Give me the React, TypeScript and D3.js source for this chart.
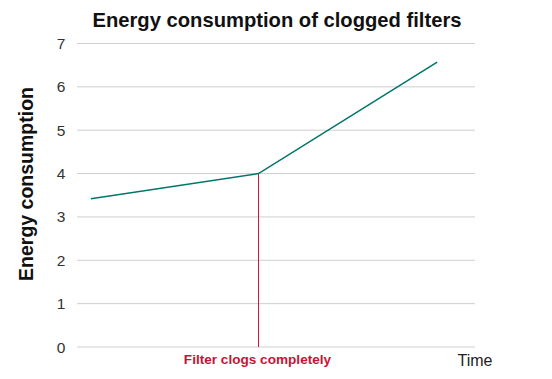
import React from "react";
import * as d3 from "d3";

const times = [0.35, 4.56, 9.05];
const energy = [3.42, 4.0, 6.57];
const yTicks = [0, 1, 2, 3, 4, 5, 6, 7];
const clogTime = 4.56;
const clogEnergy = 4.0;
const title = "Energy consumption of clogged filters";
const yLabel = "Energy consumption";
const xLabel = "Time";
const eventLabel = "Filter clogs completely";

export default function App() {
  const W = 552, H = 379;
  const x = d3.scaleLinear().domain([0, 10]).range([77, 475]);
  const y = d3.scaleLinear().domain([0, 7]).range([347, 43.5]);
  const line = d3.line<number>().x((_, i) => x(times[i])).y((d) => y(d));
  const font = "'Liberation Sans', Arial, Helvetica, sans-serif";
  return (
    <svg width={W} height={H} style={{ position: "absolute", left: 0, top: 0, background: "#fff" }} fontFamily={font}>
      <text x={277} y={27} textAnchor="middle" fontSize={20.2} fontWeight="bold" fill="#111">{title}</text>
      {yTicks.map((t) => (
        <g key={t}>
          <line x1={x.range()[0]} x2={x.range()[1]} y1={y(t)} y2={y(t)} stroke="#cfcfcf" strokeWidth={1} />
          <text x={61} y={y(t) + 5.5} textAnchor="middle" fontSize={15.5} fill="#333">{t}</text>
        </g>
      ))}
      <text transform={`translate(33,${184}) rotate(-90)`} textAnchor="middle" fontSize={19.5} fontWeight="bold" fill="#111">{yLabel}</text>
      <line x1={x(clogTime)} x2={x(clogTime)} y1={y(clogEnergy)} y2={y(0)} stroke="#d0143c" strokeWidth={1} />
      <path d={line(energy) || ""} fill="none" stroke="#00766b" strokeWidth={1.6} />
      <text x={x(clogTime) - 1} y={364} textAnchor="middle" fontSize={13.6} fontWeight="bold" fill="#cc1133">{eventLabel}</text>
      <text x={475} y={366} textAnchor="middle" fontSize={16} fill="#222">{xLabel}</text>
    </svg>
  );
}
